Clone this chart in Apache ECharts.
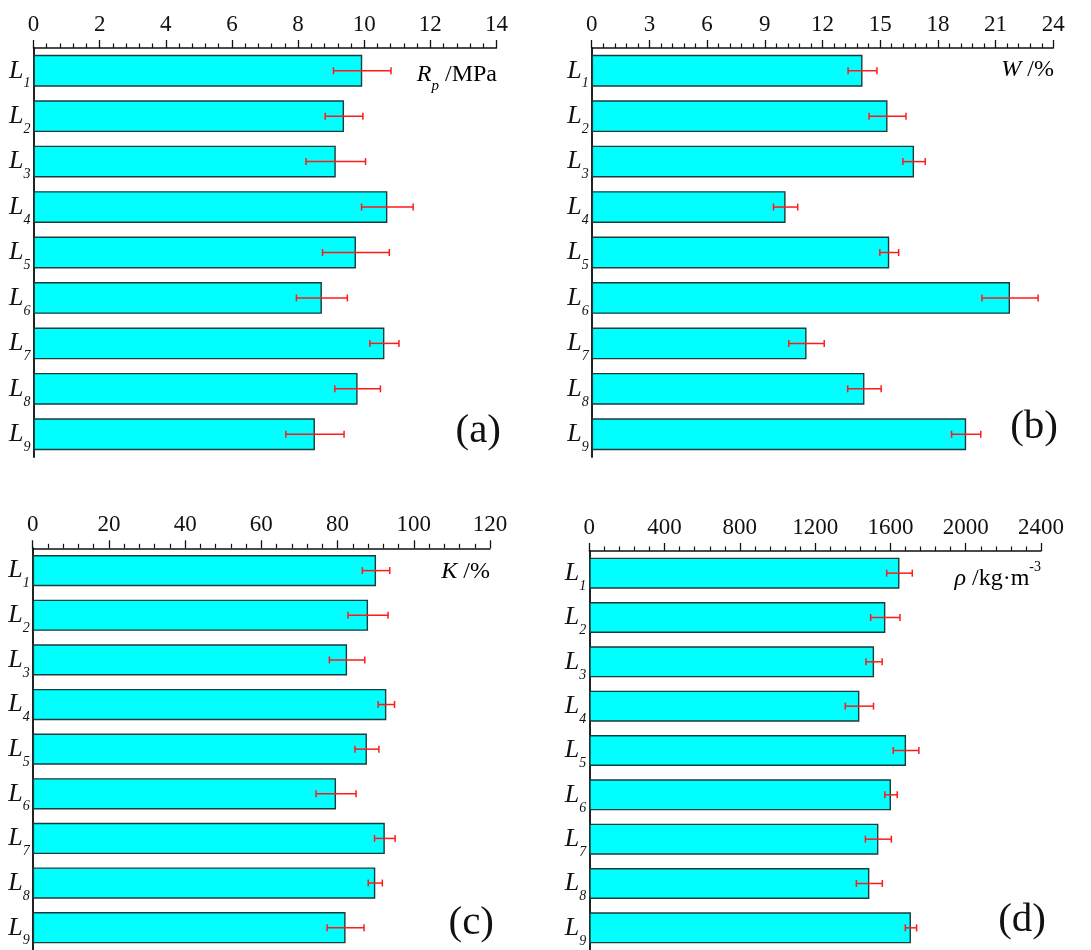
<!DOCTYPE html>
<html>
<head>
<meta charset="utf-8">
<script src="https://cdn.jsdelivr.net/npm/echarts@6/dist/echarts.min.js"></script>
<style>
  html, body { margin: 0; padding: 0; background: #fff; }
  #chart { width: 1091px; height: 950px; }
</style>
</head>
<body>
<div id="chart"></div>
<script>
// Sample groups L1..L9
const categories = ['L1', 'L2', 'L3', 'L4', 'L5', 'L6', 'L7', 'L8', 'L9'];

// (a) compressive strength Rp, MPa
const rpMean = [9.94, 9.39, 9.14, 10.70, 9.75, 8.72, 10.61, 9.80, 8.51];
const rpErr  = [0.87, 0.57, 0.90, 0.78, 1.01, 0.77, 0.44, 0.69, 0.88];
const rpTicks = { min: 0, max: 14, interval: 2 };

// (b) water absorption W, %
const wMean = [14.08, 15.38, 16.76, 10.08, 15.47, 21.75, 11.17, 14.18, 19.47];
const wErr  = [0.75, 0.96, 0.58, 0.63, 0.49, 1.46, 0.92, 0.87, 0.76];
const wTicks = { min: 0, max: 24, interval: 3 };

// (c) softening coefficient K, %
const kMean = [90.1, 88.0, 82.5, 92.8, 87.7, 79.6, 92.4, 89.9, 82.1];
const kErr  = [3.6, 5.25, 4.65, 2.15, 3.15, 5.25, 2.7, 1.85, 4.85];
const kTicks = { min: 0, max: 120, interval: 20 };

// (d) bulk density rho, kg/m^3
const rhoMean = [1648, 1573, 1513, 1435, 1683, 1603, 1536, 1488, 1709];
const rhoErr  = [68, 78, 43, 75, 68, 33, 69, 69, 30];
const rhoTicks = { min: 0, max: 2400, interval: 400 };

const FONT = 'Liberation Serif';

const panels = [
  { grid: { left: 33.5, top: 48, width: 463, height: 409 }, mean: rpMean, err: rpErr, ticks: rpTicks },
  { grid: { left: 591.7, top: 48, width: 461.6, height: 409 }, mean: wMean, err: wErr, ticks: wTicks },
  { grid: { left: 32.7, top: 548.3, width: 457.3, height: 404 }, mean: kMean, err: kErr, ticks: kTicks },
  { grid: { left: 589.3, top: 551, width: 451.7, height: 399 }, mean: rhoMean, err: rhoErr, ticks: rhoTicks }
];

const grids = [], xAxes = [], yAxes = [], series = [];

panels.forEach((p, i) => {
  grids.push(Object.assign({ containLabel: false }, p.grid));
  xAxes.push({
    type: 'value', gridIndex: i, position: 'top',
    min: p.ticks.min, max: p.ticks.max, interval: p.ticks.interval,
    axisLine: { show: true, lineStyle: { color: '#111', width: 1.5 } },
    axisTick: { show: true, inside: false, length: 8, lineStyle: { color: '#111', width: 1.3 } },
    minorTick: { show: true, splitNumber: 5, length: 4.5, lineStyle: { color: '#111', width: 1.2 } },
    splitLine: { show: false },
    axisLabel: { fontFamily: FONT, fontSize: 23, color: '#111', margin: 12, formatter: v => String(v) }
  });
  yAxes.push({
    type: 'category', gridIndex: i, data: categories, inverse: true,
    axisLine: { show: true, lineStyle: { color: '#222', width: 2 } },
    axisTick: { show: true, inside: true, length: 3, alignWithLabel: true, lineStyle: { color: '#222', width: 1 } },
    axisLabel: {
      margin: 3,
      formatter: v => '{l|' + v.charAt(0) + '}{s|' + v.slice(1) + '}',
      rich: {
        l: { fontFamily: FONT, fontStyle: 'italic', fontSize: 26, color: '#111', lineHeight: 40, verticalAlign: 'middle' },
        s: { fontFamily: FONT, fontStyle: 'italic', fontSize: 14, color: '#111', lineHeight: 14, verticalAlign: 'bottom' }
      }
    }
  });
  series.push({
    type: 'bar', xAxisIndex: i, yAxisIndex: i,
    data: p.mean,
    barCategoryGap: '30%',
    itemStyle: { color: '#00FFFF', borderColor: '#1d3b3b', borderWidth: 1.4 },
    silent: true
  });
  series.push({
    type: 'custom', xAxisIndex: i, yAxisIndex: i, z: 5, silent: true,
    data: p.mean.map((m, j) => [j, m - p.err[j], m + p.err[j]]),
    encode: { x: [1, 2], y: 0 },
    renderItem: (params, api) => {
      const c = api.value(0);
      const lo = api.coord([api.value(1), c]);
      const hi = api.coord([api.value(2), c]);
      const h = 3.5;
      const st = { stroke: '#ff1a1a', lineWidth: 1.5 };
      return {
        type: 'group',
        children: [
          { type: 'line', shape: { x1: lo[0], y1: lo[1], x2: hi[0], y2: hi[1] }, style: st },
          { type: 'line', shape: { x1: lo[0], y1: lo[1] - h, x2: lo[0], y2: lo[1] + h }, style: st },
          { type: 'line', shape: { x1: hi[0], y1: hi[1] - h, x2: hi[0], y2: hi[1] + h }, style: st }
        ]
      };
    }
  });
});

// Axis quantity names and panel letters
const nameRich = {
  i: { fontFamily: FONT, fontStyle: 'italic', fontSize: 24, color: '#111', lineHeight: 38, verticalAlign: 'middle' },
  n: { fontFamily: FONT, fontSize: 24, color: '#111', lineHeight: 38, verticalAlign: 'middle' },
  sub: { fontFamily: FONT, fontStyle: 'italic', fontSize: 15, color: '#111', lineHeight: 15, verticalAlign: 'bottom' },
  sup: { fontFamily: FONT, fontSize: 14, color: '#111', lineHeight: 14, verticalAlign: 'top' }
};
const nameText = (x, y, text) => ({
  type: 'text', x: x, y: y, silent: true,
  style: { text: text, rich: nameRich, align: 'right', verticalAlign: 'middle' }
});
const letter = (x, y, text) => ({
  type: 'text', x: x, y: y, silent: true,
  style: { text: text, fontFamily: FONT, fontSize: 41, fill: '#111', align: 'right', verticalAlign: 'middle' }
});

const chart = echarts.init(document.getElementById('chart'), null, { renderer: 'canvas' });
chart.setOption({
  backgroundColor: '#ffffff',
  animation: false,
  grid: grids,
  xAxis: xAxes,
  yAxis: yAxes,
  series: series,
  graphic: [
    nameText(497, 75, '{i|R}{sub|p}{n| /MPa}'),
    nameText(1054, 70, '{i|W}{n| /%}'),
    nameText(490, 572, '{i|K}{n| /%}'),
    nameText(1041, 579, '{i|ρ}{n| /kg·m}{sup|-3}'),
    letter(501, 431, '(a)'),
    letter(1058, 427, '(b)'),
    letter(494, 923, '(c)'),
    letter(1046, 920, '(d)')
  ]
});
</script>
</body>
</html>
